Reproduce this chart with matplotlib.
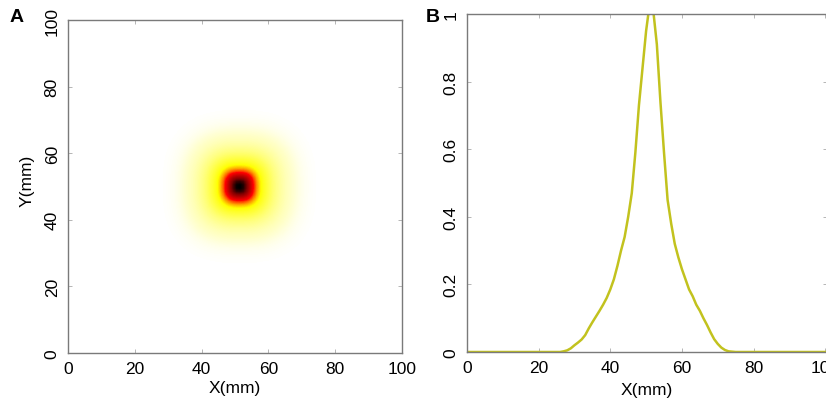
import numpy as np
import matplotlib
matplotlib.use("Agg")
import matplotlib.pyplot as plt
from matplotlib.colors import LinearSegmentedColormap

plt.rcParams["font.family"] = ["Liberation Sans", "DejaVu Sans"]

# cross-section of the spot along X (mm)
profile_x_mm = [26, 27, 28, 29, 30, 31, 32, 33, 34, 35, 36, 37, 38, 39, 40,
                41, 42, 43, 44, 45, 46, 47, 48, 49, 50, 51, 52, 53, 54, 55,
                56, 57, 58, 59, 60, 61, 62, 63, 64, 65, 66, 67, 68, 69, 70,
                71, 72, 73, 74, 75]
profile_val = [0.0, 0.002, 0.005, 0.011, 0.02, 0.028, 0.037, 0.05, 0.07, 0.088,
               0.105, 0.122, 0.14, 0.16, 0.185, 0.215, 0.255, 0.30, 0.34, 0.40,
               0.47, 0.59, 0.73, 0.84, 0.95, 1.03, 1.01, 0.91, 0.74, 0.59,
               0.45, 0.38, 0.32, 0.28, 0.245, 0.215, 0.185, 0.165, 0.14, 0.122,
               0.10, 0.08, 0.058, 0.038, 0.024, 0.013, 0.006, 0.002, 0.001, 0.0]

# spot centre on panel A (mm)
spot_cx = 51.3
spot_cy = 50.0

# full 0..100 mm trace for panel B (flat zero outside the spot)
line_x = [0] + profile_x_mm + [100]
line_y = [0.0] + profile_val + [0.0]

tick_vals = [0, 20, 40, 60, 80, 100]
b_yticks = [0, 0.2, 0.4, 0.6, 0.8, 1.0]
b_yticklabels = ["0", "0.2", "0.4", "0.6", "0.8", "1"]

# white -> yellow -> red -> black, like a reversed "hot" palette
heat = LinearSegmentedColormap.from_list("heat", [
    (0.0, (1, 1, 1)),
    (0.12, (1, 1, 0.72)),
    (0.36, (1, 1, 0)),
    (0.56, (1, 0, 0)),
    (0.82, (0.5, 0, 0)),
    (1.0, (0, 0, 0)),
])

fig = plt.figure(figsize=(8.26, 4.02), dpi=100)

spine_col = "#7a7a7a"
fs = 12.5

# ---- panel A: 2D intensity map, built from the measured profile
axA = fig.add_axes([68 / 826, 48 / 402, 334 / 826, 333 / 402])
cells = np.arange(0.5, 100.5, 1.0)
gx, gy = np.meshgrid(cells, cells)
dx = gx - spot_cx
dy = gy - spot_cy
r = (np.abs(dx) ** 2.6 + np.abs(dy) ** 2.6) ** (1 / 2.6)
# symmetric radial profile: mean of the left and right flanks
grid = 0.5 * (np.interp(spot_cx + r, profile_x_mm, profile_val, left=0, right=0)
              + np.interp(spot_cx - r, profile_x_mm, profile_val, left=0, right=0))
grid = np.clip(grid, 0, 1)
axA.imshow(grid, cmap=heat, vmin=0, vmax=1, origin="lower",
           extent=(0, 100, 0, 100), interpolation="bilinear", aspect="auto")
axA.set_xlim(0, 100)
axA.set_ylim(0, 100)
axA.set_xticks(tick_vals)
axA.set_yticks(tick_vals)
axA.set_xlabel("X(mm)", fontsize=fs, labelpad=3)
axA.set_ylabel("Y(mm)", fontsize=fs)
axA.yaxis.set_label_coords(-0.10, 0.52)

# ---- panel B: profile
axB = fig.add_axes([467 / 826, 49 / 402, 360 / 826, 338 / 402])
axB.plot(line_x, line_y, color="#c2c21e", linewidth=1.8)
axB.set_xlim(0, 100.5)
axB.set_ylim(0, 1)
axB.set_xticks(tick_vals)
axB.set_yticks(b_yticks)
axB.set_yticklabels(b_yticklabels)
axB.set_xlabel("X(mm)", fontsize=fs, labelpad=5)
axB.spines["right"].set_visible(False)

for ax in (axA, axB):
    for s in ax.spines.values():
        s.set_color(spine_col)
        s.set_linewidth(1.0)
    ax.tick_params(direction="in", length=3, width=0.6, color="#aaaaaa",
                   top=True, right=True, labelsize=fs, pad=6)
    for lab in ax.get_yticklabels():
        lab.set_rotation(90)
        lab.set_verticalalignment("center")

fig.text(17 / 826, 1 - 18 / 402, "A", fontsize=14, fontweight="bold",
         ha="center", va="center")
fig.text(433 / 826, 1 - 18 / 402, "B", fontsize=14, fontweight="bold",
         ha="center", va="center")

fig.savefig("out.png", dpi=100)
